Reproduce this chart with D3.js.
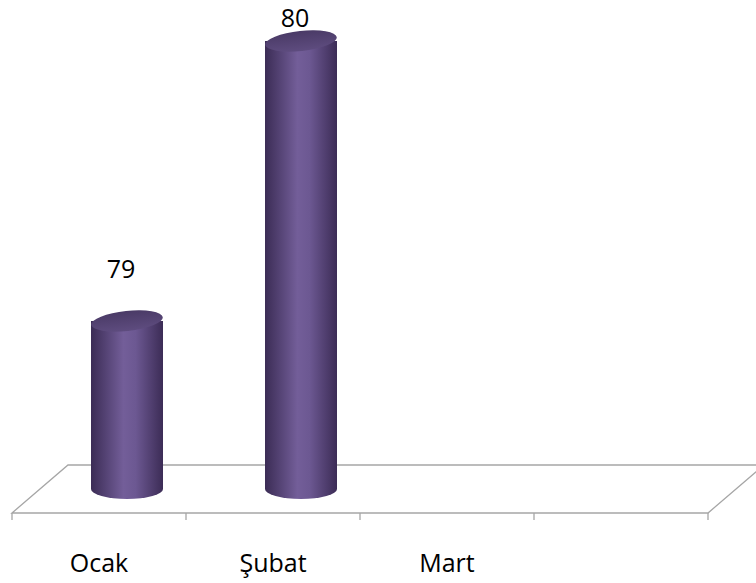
<!DOCTYPE html>
<html>
<head>
<meta charset="utf-8">
<script src="https://cdn.jsdelivr.net/npm/d3@7"></script>
<style>
  body { margin: 0; background: #fff; }
  text { font-family: "Open Sans", "Noto Sans", sans-serif; fill: #000; }
</style>
</head>
<body>
<div id="svg-container"></div>
<script>
// data
const categories = ["Ocak", "Şubat", "Mart", ""];
const values = [79, 80, null, null];
const yDomain = [78.4, 80];

const width = 756;
const height = 583;
const margin = { left: 12, right: 48, front: 513, depthX: 56, depthY: 48 };

const svg = d3.select("#svg-container").append("svg")
  .attr("width", width).attr("height", height);

// scales
const xScale = d3.scaleBand()
  .domain(categories.map((d, i) => i))
  .range([margin.left, width - margin.right])
  .paddingInner(0).paddingOuter(0);
const yScale = d3.scaleLinear().domain(yDomain)
  .range([margin.front - margin.depthY / 2, 41]);

// gradients
const defs = svg.append("defs");
const side = defs.append("linearGradient").attr("id", "side");
[["0%", "#3b2c55"], ["45%", "#735e99"], ["62%", "#6c5892"], ["100%", "#3c2c56"]]
  .forEach(([o, c]) => side.append("stop").attr("offset", o).attr("stop-color", c));
const topG = defs.append("linearGradient").attr("id", "topg")
  .attr("x1", 0).attr("y1", 0).attr("x2", 0).attr("y2", 1);
[["0%", "#4a3a66"], ["100%", "#5e4c7f"]]
  .forEach(([o, c]) => topG.append("stop").attr("offset", o).attr("stop-color", c));

// floor
const x0 = margin.left, x1 = width - margin.right;
const fy = margin.front, dx = margin.depthX, dy = margin.depthY;
svg.append("path")
  .attr("d", `M${x0},${fy} L${x0 + dx},${fy - dy} L${x1 + dx},${fy - dy} L${x1},${fy} Z`)
  .attr("fill", "#fff").attr("stroke", "#a6a6a6").attr("stroke-width", 1.3);

// axis
const axisG = svg.append("g").attr("transform", `translate(0,${fy})`);
const tickPos = categories.map((d, i) => xScale(i)).concat([x1]);
axisG.selectAll("line").data(tickPos).enter().append("line")
  .attr("x1", (d) => d).attr("x2", (d) => d)
  .attr("y1", 0).attr("y2", 7)
  .attr("stroke", "#a6a6a6").attr("stroke-width", 1.3);
axisG.selectAll("text").data(categories).enter().append("text")
  .attr("x", (d, i) => xScale(i) + xScale.bandwidth() / 2)
  .attr("y", 59)
  .attr("text-anchor", "middle")
  .attr("font-size", 25)
  .text((d) => d);

// cylinders
const rx = 36, ry = 10, tilt = -6;
const bars = categories.map((c, i) => ({ c, v: values[i], i })).filter((d) => d.v != null);
const base = yScale(yDomain[0]);

const g = svg.selectAll("g.bar").data(bars).enter().append("g").attr("class", "bar")
  .attr("transform", (d) => `translate(${xScale(d.i) + xScale.bandwidth() / 2 + dx / 2},0)`);

g.append("path")
  .attr("d", (d) => {
    const t = yScale(d.v);
    return `M${-rx},${t} L${-rx},${base} A${rx},${ry} 0 0 0 ${rx},${base} L${rx},${t} Z`;
  })
  .attr("fill", "url(#side)");

g.append("ellipse")
  .attr("cx", 0).attr("cy", (d) => yScale(d.v))
  .attr("rx", rx).attr("ry", ry)
  .attr("transform", (d) => `rotate(${tilt},0,${yScale(d.v)})`)
  .attr("fill", "url(#topg)");

// value labels (kept inside the plot when the bar reaches the top)
g.append("text")
  .attr("x", -6)
  .attr("y", (d) => Math.max(yScale(d.v) - 43, 27))
  .attr("text-anchor", "middle")
  .attr("font-size", 25)
  .text((d) => d.v);
</script>
</body>
</html>
